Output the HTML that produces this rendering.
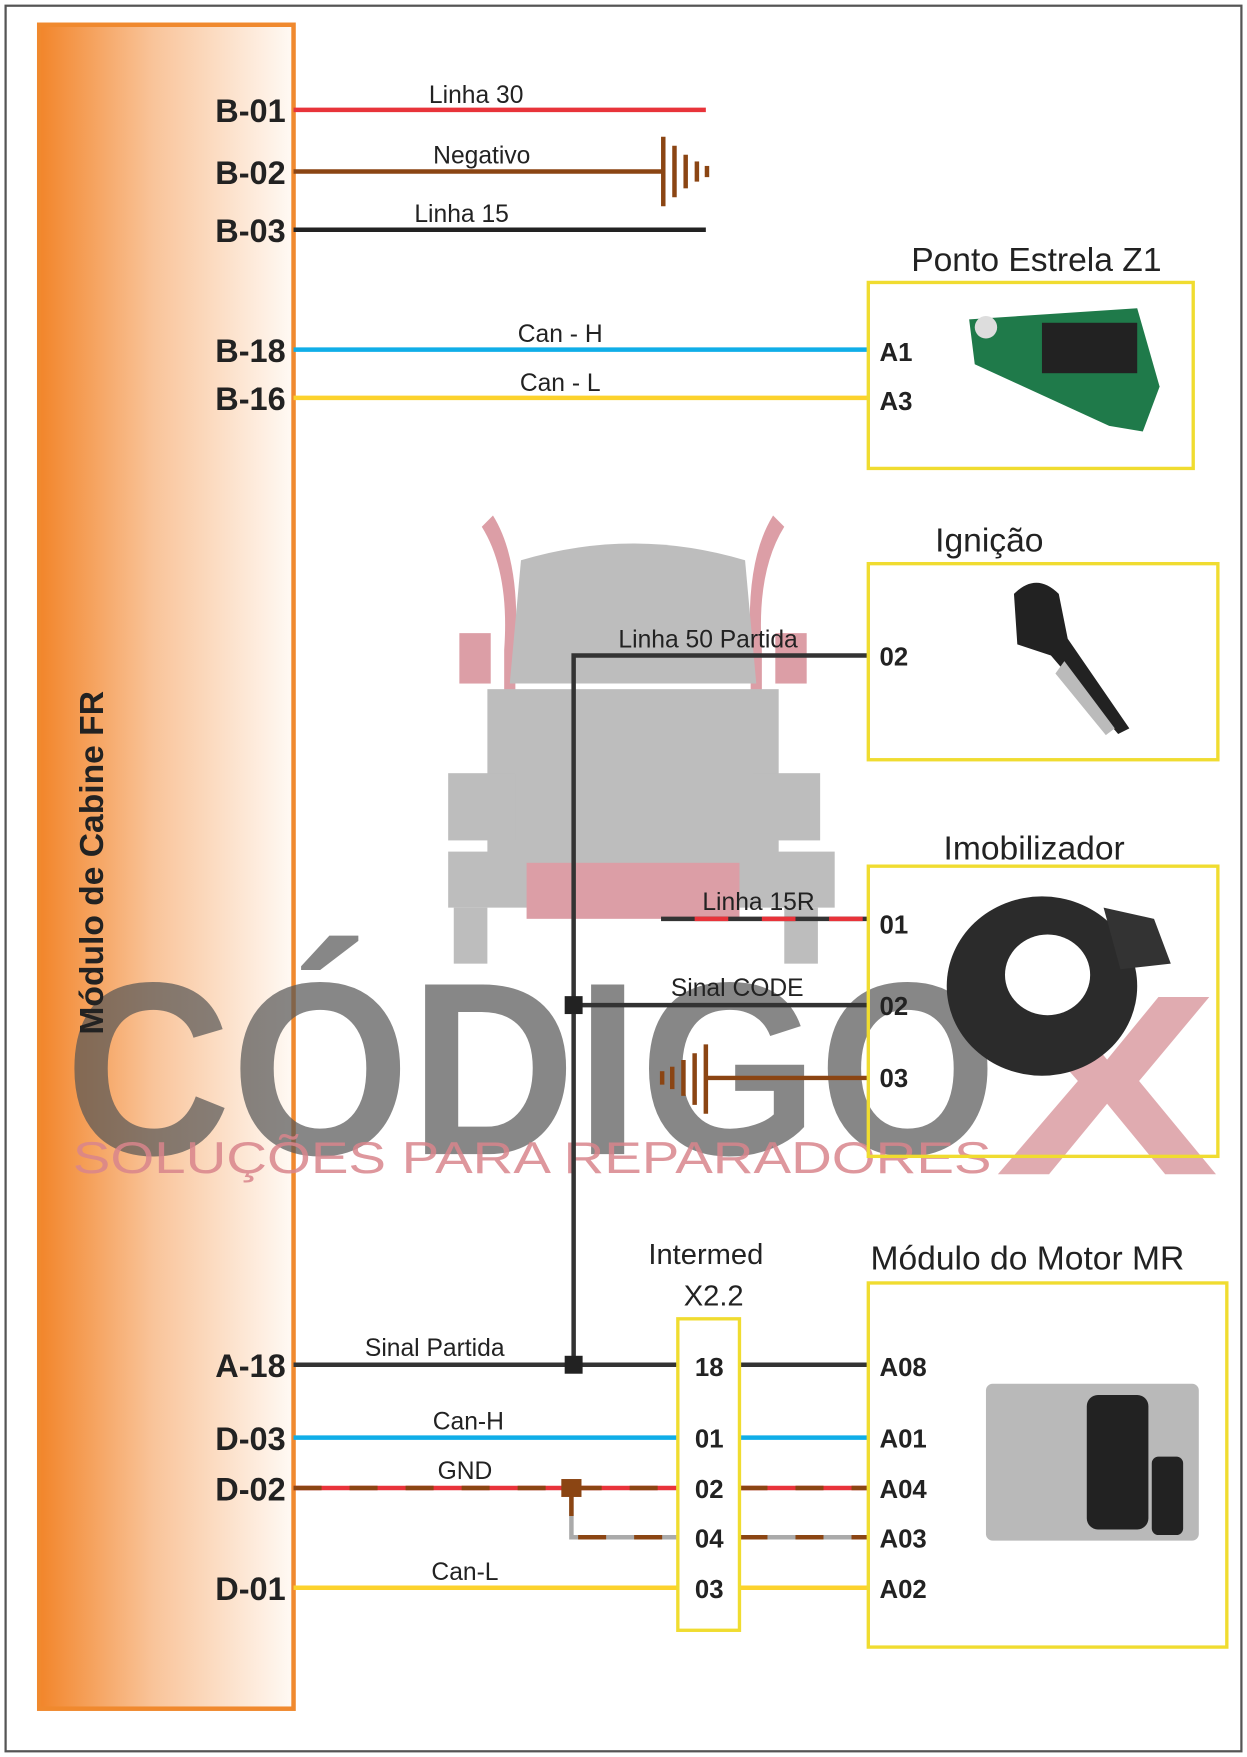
<!DOCTYPE html>
<html><head><meta charset="utf-8"><style>
html,body{margin:0;padding:0;background:#fff}
svg{display:block}
text{font-family:"Liberation Sans",Arial,sans-serif}
</style></head><body>
<svg width="1247" height="1757" viewBox="0 0 1113 1568" xmlns="http://www.w3.org/2000/svg">
<defs>
<linearGradient id="og" x1="0" x2="1" y1="0" y2="0">
<stop offset="0" stop-color="#f2852a"/><stop offset="0.45" stop-color="#f9c49a"/><stop offset="1" stop-color="#fffaf5"/>
</linearGradient>
</defs>
<rect x="0" y="0" width="1113" height="1568" fill="#fff"/>
<rect x="5" y="5" width="1103" height="1558" fill="none" stroke="#555" stroke-width="2"/>

<!-- orange bar -->
<rect x="35" y="22" width="227" height="1503" fill="url(#og)" stroke="#f0892e" stroke-width="4"/>

<!-- watermark truck -->
<g opacity="0.55">
<path d="M440 460 q25 40 20 120 l0 40 -10 0 0 -40 q5 -70 -20 -110z" fill="#c0505f"/>
<path d="M690 460 q-25 40 -20 120 l0 40 10 0 0 -40 q-5 -70 20 -110z" fill="#c0505f"/>
<rect x="410" y="565" width="28" height="45" fill="#c0505f"/>
<rect x="692" y="565" width="28" height="45" fill="#c0505f"/>
<path d="M465 500 q100 -30 200 0 l10 110 -220 0z" fill="#888"/>
<rect x="435" y="615" width="260" height="160" fill="#888"/>
<rect x="400" y="690" width="60" height="60" fill="#888"/>
<rect x="672" y="690" width="60" height="60" fill="#888"/>
<rect x="400" y="760" width="345" height="50" fill="#888"/>
<rect x="470" y="770" width="190" height="50" fill="#c0505f"/>
<rect x="405" y="810" width="30" height="50" fill="#888"/>
<rect x="700" y="810" width="30" height="50" fill="#888"/>
</g>
<text x="58" y="1030" font-size="220" font-weight="bold" fill="#555" opacity="0.7" textLength="832" lengthAdjust="spacingAndGlyphs">CÓDIGO</text>
<text x="888" y="1048" font-size="230" font-weight="bold" fill="#d48890" opacity="0.7" textLength="200" lengthAdjust="spacingAndGlyphs">X</text>
<text x="65" y="1047" font-size="40" fill="#d9858c" opacity="0.85" textLength="820" lengthAdjust="spacingAndGlyphs">SOLUÇÕES PARA REPARADORES</text>

<text transform="translate(92,770) rotate(-90)" text-anchor="middle" font-size="30" font-weight="bold" fill="#222">Módulo de Cabine FR</text>

<g font-size="29" font-weight="bold" fill="#222" text-anchor="end">
<text x="255" y="109">B-01</text><text x="255" y="164">B-02</text><text x="255" y="216">B-03</text>
<text x="255" y="323">B-18</text><text x="255" y="366">B-16</text>
<text x="255" y="1229">A-18</text><text x="255" y="1294">D-03</text><text x="255" y="1339">D-02</text><text x="255" y="1428">D-01</text>
</g>

<g stroke-width="4" fill="none">
<line x1="262" y1="98" x2="630" y2="98" stroke="#e8333a"/>
<line x1="262" y1="153" x2="592" y2="153" stroke="#8b4513"/>
<line x1="262" y1="205" x2="630" y2="205" stroke="#222"/>
<line x1="262" y1="312" x2="775" y2="312" stroke="#10aee8"/>
<line x1="262" y1="355" x2="775" y2="355" stroke="#fcd22c"/>
<polyline points="512,1218 512,585 775,585" stroke="#333"/>
<line x1="512" y1="897" x2="775" y2="897" stroke="#333"/>
<line x1="590" y1="820" x2="775" y2="820" stroke="#333"/>
<line x1="590" y1="820" x2="775" y2="820" stroke="#e8333a" stroke-dasharray="30,30" stroke-dashoffset="-30"/>
<line x1="630" y1="962" x2="775" y2="962" stroke="#8b4513"/>
<line x1="262" y1="1218" x2="605" y2="1218" stroke="#333"/>
<line x1="660" y1="1218" x2="775" y2="1218" stroke="#333"/>
<line x1="262" y1="1283" x2="605" y2="1283" stroke="#10aee8"/>
<line x1="660" y1="1283" x2="775" y2="1283" stroke="#10aee8"/>
<line x1="262" y1="1328" x2="605" y2="1328" stroke="#e8333a"/>
<line x1="262" y1="1328" x2="605" y2="1328" stroke="#8b4513" stroke-dasharray="25,25"/>
<line x1="660" y1="1328" x2="775" y2="1328" stroke="#e8333a"/>
<line x1="660" y1="1328" x2="775" y2="1328" stroke="#8b4513" stroke-dasharray="25,25"/>
<polyline points="510,1328 510,1372 605,1372" stroke="#aaa"/>
<polyline points="510,1328 510,1372 605,1372" stroke="#8b4513" stroke-dasharray="25,25"/>
<line x1="660" y1="1372" x2="775" y2="1372" stroke="#aaa"/>
<line x1="660" y1="1372" x2="775" y2="1372" stroke="#8b4513" stroke-dasharray="25,25"/>
<line x1="262" y1="1417" x2="605" y2="1417" stroke="#fcd22c"/>
<line x1="660" y1="1417" x2="775" y2="1417" stroke="#fcd22c"/>
</g>
<!-- grounds -->
<g stroke="#8b4513" stroke-width="4">
<line x1="592" y1="122" x2="592" y2="184"/><line x1="602" y1="130" x2="602" y2="176"/><line x1="612" y1="138" x2="612" y2="168"/><line x1="622" y1="144" x2="622" y2="162"/><line x1="631" y1="148" x2="631" y2="158"/>
<line x1="630" y1="932" x2="630" y2="994"/><line x1="620" y1="940" x2="620" y2="986"/><line x1="610" y1="946" x2="610" y2="978"/><line x1="600" y1="952" x2="600" y2="972"/><line x1="591" y1="956" x2="591" y2="968"/>
</g>
<rect x="504" y="889" width="16" height="16" fill="#222"/>
<rect x="504" y="1210" width="16" height="16" fill="#222"/>
<rect x="501" y="1320" width="18" height="16" fill="#8b4513"/>

<g font-size="22" fill="#222" text-anchor="middle">
<text x="425" y="92">Linha 30</text><text x="430" y="146">Negativo</text><text x="412" y="198">Linha 15</text>
<text x="500" y="305">Can - H</text><text x="500" y="349">Can - L</text>
<text x="632" y="578">Linha 50 Partida</text><text x="677" y="812">Linha 15R</text><text x="658" y="889">Sinal CODE</text>
<text x="388" y="1210">Sinal Partida</text><text x="418" y="1276">Can-H</text><text x="415" y="1320">GND</text><text x="415" y="1410">Can-L</text>
</g>

<g fill="none" stroke="#f0dc30" stroke-width="3">
<rect x="775" y="252" width="290" height="166"/>
<rect x="775" y="503" width="312" height="175"/>
<rect x="775" y="773" width="312" height="259"/>
<rect x="775" y="1145" width="320" height="325"/>
<rect x="605" y="1177" width="55" height="278"/>
</g>
<g font-size="30" fill="#222" text-anchor="middle">
<text x="925" y="242">Ponto Estrela Z1</text><text x="883" y="492">Ignição</text>
<text x="923" y="767">Imobilizador</text><text x="917" y="1133">Módulo do Motor MR</text>
<text x="630" y="1128" font-size="26">Intermed</text><text x="637" y="1165" font-size="26">X2.2</text>
</g>
<g font-size="23" font-weight="bold" fill="#222">
<text x="785" y="322">A1</text><text x="785" y="366">A3</text><text x="785" y="594">02</text>
<text x="785" y="833">01</text><text x="785" y="906">02</text><text x="785" y="970">03</text>
<text x="785" y="1228">A08</text><text x="785" y="1292">A01</text><text x="785" y="1337">A04</text><text x="785" y="1381">A03</text><text x="785" y="1426">A02</text>
<g text-anchor="middle"><text x="633" y="1228">18</text><text x="633" y="1292">01</text><text x="633" y="1337">02</text><text x="633" y="1381">04</text><text x="633" y="1426">03</text></g>
</g>

<!-- component images approximations -->
<g>
<path d="M865 285 l150 -10 20 70 -15 40 -30 -5 -120 -55z" fill="#1f7a4a"/>
<rect x="930" y="288" width="85" height="45" fill="#222"/>
<circle cx="880" cy="292" r="10" fill="#ddd"/>
<path d="M905 530 q20 -20 40 0 l8 40 55 80 -10 5 -60 -70 -30 -10z" fill="#222"/>
<path d="M950 590 l45 60 -8 6 -45 -55z" fill="#bbb"/>
<ellipse cx="930" cy="880" rx="85" ry="80" fill="#2b2b2b"/>
<ellipse cx="935" cy="870" rx="38" ry="36" fill="#fff"/>
<path d="M985 810 l45 10 15 40 -45 5z" fill="#333"/>
<rect x="880" y="1235" width="190" height="140" rx="6" fill="#b9b9b9"/>
<rect x="970" y="1245" width="55" height="120" rx="10" fill="#222"/>
<rect x="1028" y="1300" width="28" height="70" rx="6" fill="#222"/>
</g>
</svg>
</body></html>
